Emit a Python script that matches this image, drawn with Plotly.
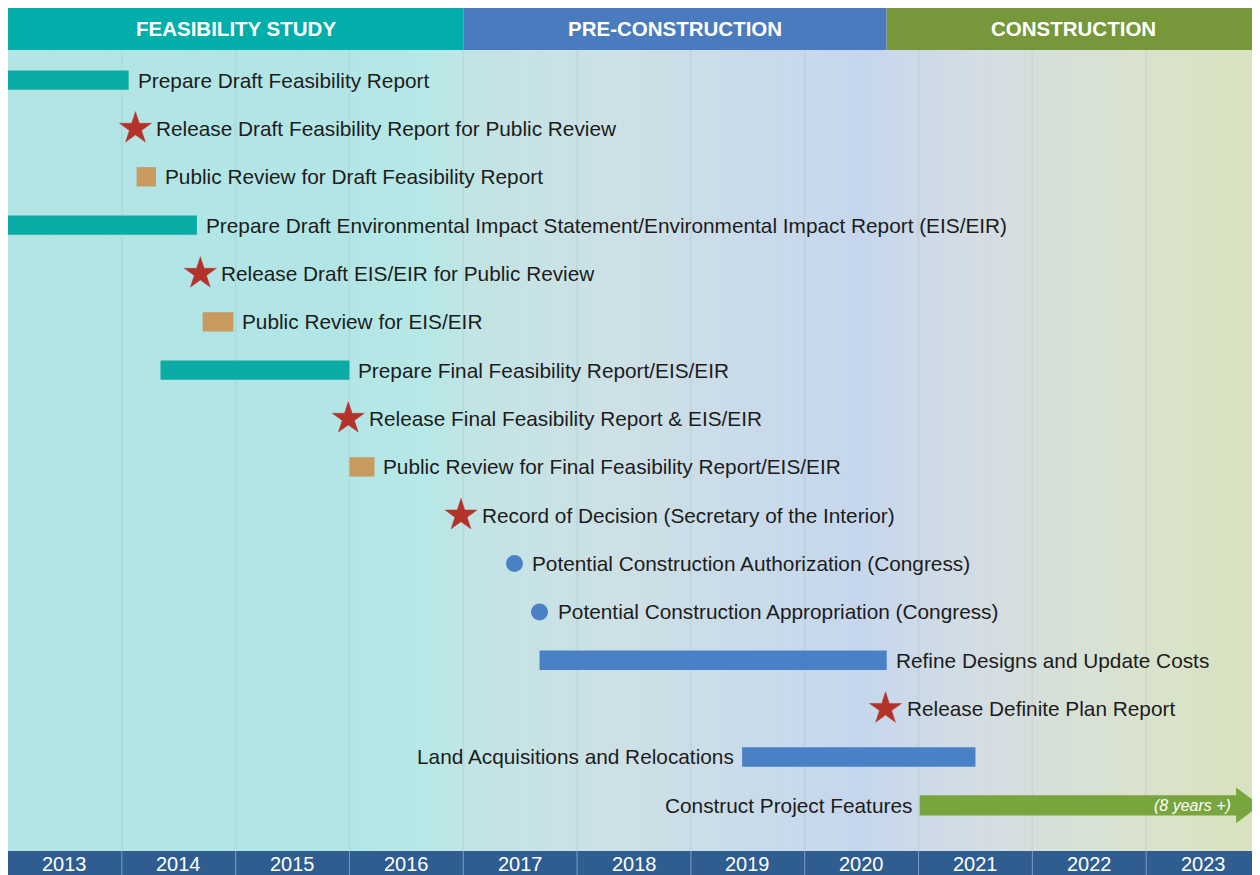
import plotly.graph_objects as go

# ---------------- data ----------------
tasks = [
    "Prepare Draft Feasibility Report",
    "Release Draft Feasibility Report for Public Review",
    "Public Review for Draft Feasibility Report",
    "Prepare Draft Environmental Impact Statement/Environmental Impact Report (EIS/EIR)",
    "Release Draft EIS/EIR for Public Review",
    "Public Review for EIS/EIR",
    "Prepare Final Feasibility Report/EIS/EIR",
    "Release Final Feasibility Report & EIS/EIR",
    "Public Review for Final Feasibility Report/EIS/EIR",
    "Record of Decision (Secretary of the Interior)",
    "Potential Construction Authorization (Congress)",
    "Potential Construction Appropriation (Congress)",
    "Refine Designs and Update Costs",
    "Release Definite Plan Report",
    "Land Acquisitions and Relocations",
    "Construct Project Features",
]
kinds = ["prep", "milestone", "review", "prep", "milestone", "review", "prep", "milestone",
         "review", "milestone", "congress", "congress", "design", "milestone", "design", "construct"]
starts = [2013.0, 2014.12, 2014.13, 2013.0, 2014.69, 2014.71, 2014.34, 2015.99,
          2016.0, 2016.98, 2017.45, 2017.67, 2017.67, 2020.71, 2019.45, 2021.01]
ends = [2014.06, None, 2014.30, 2014.66, None, 2014.98, 2016.0, None,
        2016.22, None, None, None, 2020.72, None, 2021.50, 2024.0]
label_left = [False] * 14 + [True, True]
arrow_note = "(8 years +)"

years = list(range(2013, 2024))
phases = ["FEASIBILITY STUDY", "PRE-CONSTRUCTION", "CONSTRUCTION"]
phase_starts = [2013.0, 2017.0, 2020.72]
phase_ends = [2017.0, 2020.72, 2024.0]

# ---------------- style ----------------
FONT = "Liberation Sans, Arial, sans-serif"
kind_color = {
    "prep": "#0baba6",
    "review": "#c99a5d",
    "milestone": "#b3332a",
    "congress": "#4a80c6",
    "design": "#4a80c6",
    "construct": "#78a53e",
}
phase_colors = ["#01aea9", "#4a7bbf", "#76983a"]
YEARBAR = "#2f5d8f"

# axes geometry (page has an 8px body margin; figure fills the rest)
X0, X1 = 2013.0, 2024.0
Y_TOP, Y_BOT = -1.491, 16.441
HDR_T, HDR_B = -1.491, -0.623
HDR_MID = -1.07
YB_T, YB_B = 15.944, 16.441
BAR_H = 0.40

fig = go.Figure()
shapes = []

# background gradient (style only)
stops = [(2013.0, (179, 229, 228)), (2015.8, (178, 229, 229)), (2016.7, (182, 232, 231)),
         (2017.1, (195, 228, 228)), (2018.5, (205, 224, 230)), (2020.5, (198, 215, 237)),
         (2021.6, (212, 221, 226)), (2022.9, (217, 227, 206)), (2024.0, (216, 226, 190))]


def col_at(x):
    for (xa, ca), (xb, cb) in zip(stops[:-1], stops[1:]):
        if xa <= x <= xb:
            t = (x - xa) / (xb - xa)
            c = [round(ca[i] + (cb[i] - ca[i]) * t) for i in range(3)]
            return f"rgb({c[0]},{c[1]},{c[2]})"
    return f"rgb{stops[-1][1]}"


n = 140
step = (2024.0 - 2013.0) / n
for i in range(n):
    xa = 2013.0 + i * step
    shapes.append(dict(type="rect", xref="x", yref="y", x0=xa, x1=min(xa + step + 0.03, X1),
                       y0=HDR_B, y1=YB_T, fillcolor=col_at(xa + step / 2),
                       line=dict(width=0), layer="below"))

# faint year grid lines
for y in years[1:]:
    shapes.append(dict(type="line", xref="x", yref="y", x0=y, x1=y, y0=HDR_B, y1=YB_T,
                       line=dict(color="rgba(110,130,140,0.09)", width=2), layer="below"))

# header phases
for name, a, b, c in zip(phases, phase_starts, phase_ends, phase_colors):
    shapes.append(dict(type="rect", xref="x", yref="y", x0=a, x1=b, y0=HDR_T, y1=HDR_B,
                       fillcolor=c, line=dict(width=0)))
    fig.add_annotation(x=(a + b) / 2, y=HDR_MID, text=name, showarrow=False,
                       font=dict(family=FONT, size=20.5, color="white", weight="bold"),
                       xanchor="center", yanchor="middle")

# year bar
shapes.append(dict(type="rect", xref="x", yref="y", x0=X0, x1=X1, y0=YB_T, y1=YB_B,
                   fillcolor=YEARBAR, line=dict(width=0)))
for y in years[1:]:
    shapes.append(dict(type="line", xref="x", yref="y", x0=y, x1=y, y0=YB_T, y1=YB_B,
                       line=dict(color="#7d9cc2", width=1)))
for y in years:
    fig.add_annotation(x=y + 0.5, y=(YB_T + YB_B) / 2 + 0.03, text=str(y), showarrow=False,
                       font=dict(family=FONT, size=20, color="white"),
                       xanchor="center", yanchor="middle")

# duration bars
for k in ["prep", "review", "design", "construct"]:
    idx = [i for i, kk in enumerate(kinds) if kk == k]
    bases = [starts[i] for i in idx]
    if k == "construct":
        lens = [ends[i] - 0.2 - starts[i] for i in idx]
    else:
        lens = [ends[i] - starts[i] for i in idx]
    fig.add_trace(go.Bar(orientation="h", base=bases, x=lens, y=idx,
                         width=BAR_H if k != "construct" else 0.42,
                         marker=dict(color=kind_color[k], line=dict(width=0)),
                         showlegend=False, hoverinfo="skip"))

# arrow head for construction
for i, kk in enumerate(kinds):
    if kk == "construct":
        e = ends[i]
        fig.add_trace(go.Scatter(x=[e - 0.21, e, e - 0.21, e - 0.21], y=[i - 0.37, i, i + 0.37, i - 0.37],
                                 fill="toself", fillcolor=kind_color[kk], mode="lines",
                                 line=dict(width=0, color=kind_color[kk]),
                                 showlegend=False, hoverinfo="skip"))
        fig.add_annotation(x=e - 0.24, y=i, text=arrow_note, showarrow=False,
                           font=dict(family=FONT, size=16, color="white", style="italic"),
                           xanchor="right", yanchor="middle")

# milestone markers
m_idx = [i for i, k in enumerate(kinds) if k == "milestone"]
fig.add_trace(go.Scatter(x=[starts[i] for i in m_idx], y=m_idx, mode="markers",
                         marker=dict(symbol="star", size=24, color=kind_color["milestone"],
                                     line=dict(width=0.5, color=kind_color["milestone"])),
                         showlegend=False, hoverinfo="skip"))
c_idx = [i for i, k in enumerate(kinds) if k == "congress"]
fig.add_trace(go.Scatter(x=[starts[i] for i in c_idx], y=c_idx, mode="markers",
                         marker=dict(symbol="circle", size=17, color=kind_color["congress"],
                                     line=dict(width=0)),
                         showlegend=False, hoverinfo="skip"))

# task labels
for i, (t, k) in enumerate(zip(tasks, kinds)):
    if label_left[i]:
        fig.add_annotation(x=starts[i], y=i, text=t, showarrow=False, xanchor="right",
                           yanchor="middle", xshift=-6,
                           font=dict(family=FONT, size=20.8, color="#1c1c1c"))
    else:
        if ends[i] is not None:
            x, sh = ends[i], 7
        elif k == "milestone":
            x, sh = starts[i], 19
        else:
            x, sh = starts[i], 16
        fig.add_annotation(x=x, y=i, text=t, showarrow=False, xanchor="left",
                           yanchor="middle", xshift=sh,
                           font=dict(family=FONT, size=20.8, color="#1c1c1c"))

fig.update_layout(
    width=1252, height=867,
    margin=dict(l=0, r=0, t=0, b=0),
    paper_bgcolor="white", plot_bgcolor="white",
    barmode="overlay",
    shapes=shapes,
    xaxis=dict(range=[X0, X1], visible=False, fixedrange=True),
    yaxis=dict(range=[Y_BOT, Y_TOP], visible=False, fixedrange=True),
    showlegend=False,
)

fig.write_html("out.html")
